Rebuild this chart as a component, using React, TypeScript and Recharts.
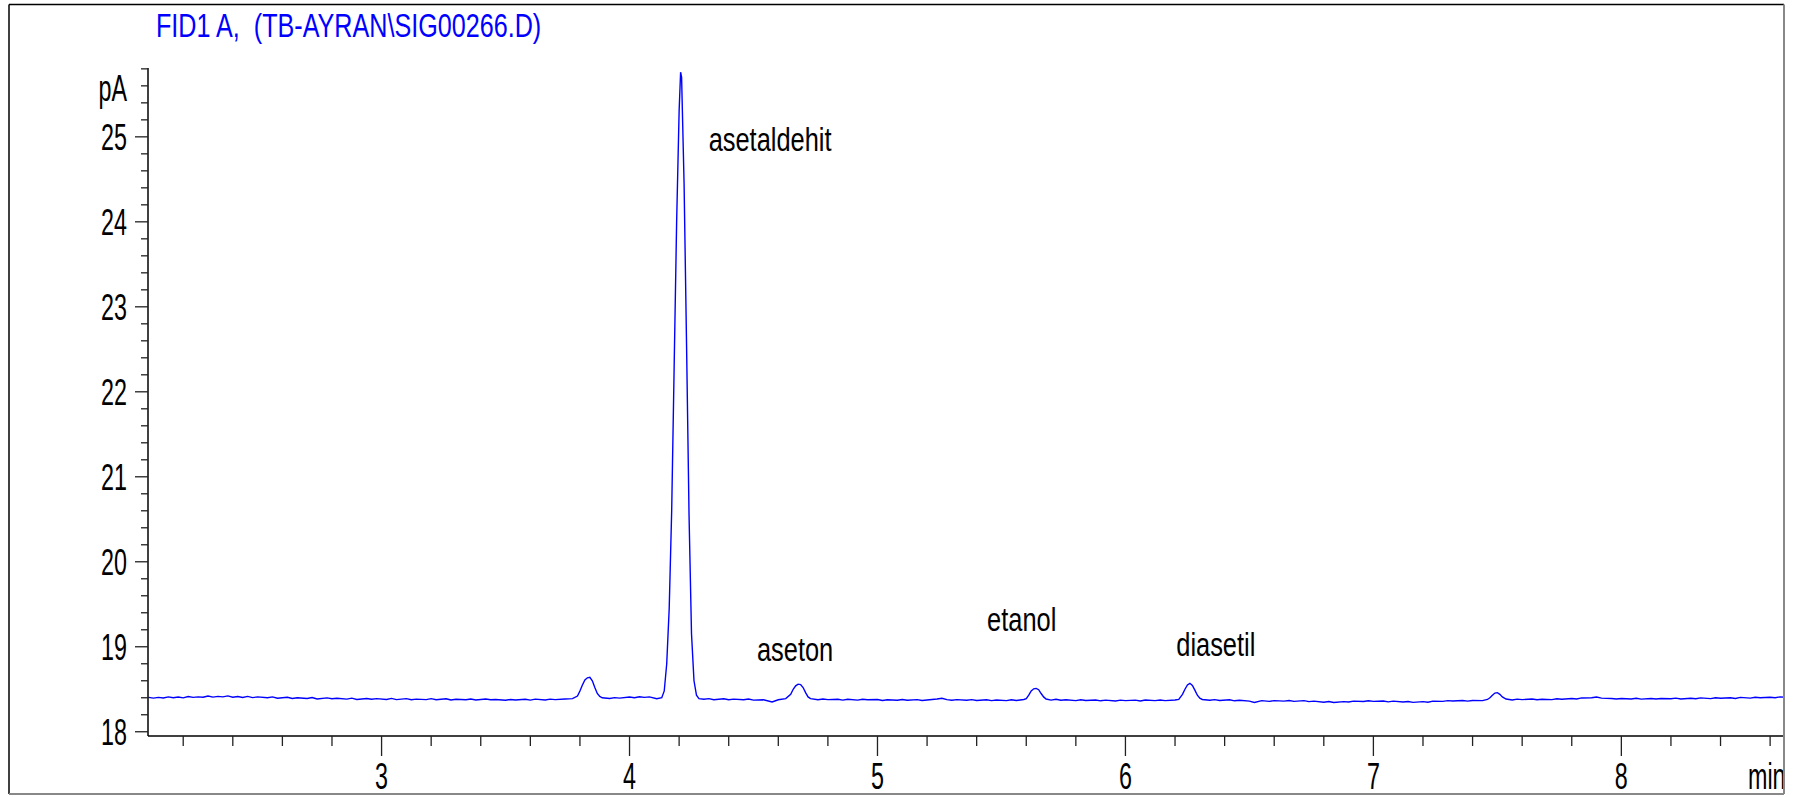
import { LineChart, Line, XAxis, YAxis, ReferenceDot } from 'recharts'

// chromatogram trace: [retention time (min), signal (pA)]
const trace: [number, number][] = [
  [2.06, 18.405], [2.08, 18.396], [2.1, 18.404], [2.12, 18.397], [2.14, 18.41], [2.16, 18.4],
  [2.18, 18.408], [2.2, 18.399], [2.22, 18.414], [2.24, 18.404], [2.26, 18.41], [2.28, 18.406],
  [2.3, 18.42], [2.32, 18.408], [2.34, 18.416], [2.36, 18.41], [2.38, 18.422], [2.4, 18.406],
  [2.42, 18.414], [2.44, 18.404], [2.46, 18.416], [2.48, 18.402], [2.5, 18.41], [2.54, 18.4],
  [2.56, 18.41], [2.58, 18.394], [2.62, 18.406], [2.64, 18.392], [2.66, 18.4], [2.7, 18.392],
  [2.72, 18.402], [2.74, 18.386], [2.78, 18.398], [2.8, 18.388], [2.82, 18.394], [2.86, 18.384],
  [2.88, 18.395], [2.9, 18.38], [2.94, 18.392], [2.96, 18.382], [2.98, 18.39], [3.02, 18.38],
  [3.04, 18.392], [3.06, 18.378], [3.1, 18.39], [3.12, 18.376], [3.14, 18.384], [3.18, 18.378],
  [3.2, 18.39], [3.22, 18.376], [3.26, 18.388], [3.28, 18.374], [3.3, 18.382], [3.34, 18.376],
  [3.36, 18.386], [3.38, 18.374], [3.42, 18.386], [3.44, 18.376], [3.46, 18.38], [3.5, 18.37],
  [3.52, 18.38], [3.54, 18.374], [3.58, 18.382], [3.6, 18.372], [3.62, 18.384], [3.66, 18.374],
  [3.68, 18.384], [3.7, 18.378], [3.74, 18.386], [3.77, 18.39],
  [3.79, 18.42], [3.8, 18.48], [3.81, 18.55], [3.82, 18.61], [3.83, 18.635], [3.84, 18.64],
  [3.85, 18.6], [3.86, 18.52], [3.87, 18.45], [3.88, 18.415], [3.89, 18.4],
  [3.92, 18.392], [3.94, 18.402], [3.96, 18.396], [4.0, 18.408], [4.02, 18.4], [4.04, 18.412],
  [4.06, 18.404], [4.08, 18.41], [4.11, 18.388],
  [4.13, 18.4], [4.14, 18.48], [4.15, 18.8], [4.16, 19.45], [4.17, 20.6], [4.18, 22.3],
  [4.19, 24.0], [4.2, 25.3], [4.206, 25.76], [4.21, 25.7], [4.22, 24.45], [4.23, 22.55],
  [4.24, 20.55], [4.25, 19.15], [4.26, 18.6], [4.27, 18.43], [4.28, 18.39],
  [4.3, 18.382], [4.32, 18.39], [4.34, 18.376], [4.38, 18.388], [4.4, 18.376], [4.42, 18.384],
  [4.46, 18.376], [4.48, 18.386], [4.5, 18.372], [4.54, 18.376], [4.575, 18.35], [4.6, 18.376],
  [4.63, 18.39],
  [4.65, 18.44], [4.66, 18.5], [4.67, 18.54], [4.68, 18.56], [4.69, 18.555], [4.7, 18.52],
  [4.71, 18.46], [4.72, 18.41], [4.73, 18.39],
  [4.76, 18.376], [4.78, 18.386], [4.8, 18.378], [4.84, 18.382], [4.86, 18.372], [4.88, 18.382],
  [4.92, 18.372], [4.94, 18.382], [4.96, 18.376], [5.0, 18.38], [5.02, 18.368], [5.04, 18.376],
  [5.08, 18.37], [5.1, 18.38], [5.12, 18.37], [5.16, 18.378], [5.18, 18.368], [5.2, 18.374],
  [5.24, 18.385], [5.26, 18.394], [5.28, 18.378], [5.3, 18.37], [5.32, 18.378], [5.36, 18.37],
  [5.38, 18.378], [5.4, 18.368], [5.44, 18.376], [5.46, 18.366], [5.48, 18.374], [5.52, 18.366],
  [5.54, 18.376], [5.56, 18.368], [5.59, 18.38],
  [5.6, 18.39], [5.61, 18.43], [5.62, 18.48], [5.63, 18.505], [5.64, 18.51], [5.65, 18.495],
  [5.66, 18.45], [5.67, 18.41], [5.68, 18.385],
  [5.7, 18.372], [5.72, 18.382], [5.74, 18.37], [5.76, 18.376], [5.8, 18.366], [5.82, 18.376],
  [5.84, 18.368], [5.88, 18.374], [5.9, 18.364], [5.92, 18.372], [5.96, 18.362], [5.98, 18.372],
  [6.0, 18.366], [6.04, 18.372], [6.06, 18.362], [6.08, 18.374], [6.12, 18.366], [6.14, 18.374],
  [6.16, 18.366], [6.2, 18.374], [6.215, 18.38],
  [6.23, 18.44], [6.24, 18.5], [6.25, 18.55], [6.26, 18.57], [6.27, 18.545], [6.28, 18.49],
  [6.29, 18.43], [6.3, 18.395], [6.31, 18.38],
  [6.34, 18.37], [6.36, 18.378], [6.38, 18.368], [6.42, 18.376], [6.44, 18.364], [6.46, 18.37],
  [6.5, 18.36], [6.52, 18.345], [6.55, 18.366], [6.58, 18.358], [6.6, 18.366], [6.64, 18.36],
  [6.66, 18.368], [6.68, 18.358], [6.72, 18.366], [6.74, 18.354], [6.76, 18.36], [6.8, 18.348],
  [6.82, 18.356], [6.84, 18.344], [6.88, 18.354], [6.9, 18.35], [6.92, 18.36], [6.96, 18.356],
  [6.98, 18.364], [7.0, 18.358], [7.04, 18.362], [7.06, 18.352], [7.08, 18.36], [7.12, 18.35],
  [7.14, 18.356], [7.16, 18.346], [7.2, 18.354], [7.22, 18.348], [7.24, 18.36], [7.28, 18.358],
  [7.3, 18.366], [7.32, 18.362], [7.36, 18.368], [7.38, 18.36], [7.4, 18.368], [7.44, 18.366],
  [7.46, 18.38],
  [7.47, 18.4], [7.48, 18.43], [7.49, 18.455], [7.5, 18.46], [7.51, 18.44], [7.52, 18.41],
  [7.535, 18.385],
  [7.56, 18.374], [7.58, 18.384], [7.6, 18.378], [7.64, 18.386], [7.66, 18.376], [7.68, 18.382],
  [7.72, 18.378], [7.74, 18.388], [7.76, 18.382], [7.8, 18.392], [7.82, 18.386], [7.84, 18.398],
  [7.88, 18.4], [7.9, 18.408], [7.92, 18.396], [7.96, 18.392], [7.98, 18.386], [8.0, 18.392],
  [8.04, 18.386], [8.06, 18.394], [8.08, 18.384], [8.12, 18.392], [8.14, 18.386], [8.16, 18.392],
  [8.2, 18.388], [8.22, 18.396], [8.24, 18.386], [8.28, 18.394], [8.3, 18.388], [8.32, 18.398],
  [8.36, 18.39], [8.38, 18.4], [8.4, 18.394], [8.44, 18.4], [8.46, 18.392], [8.48, 18.404],
  [8.52, 18.396], [8.54, 18.406], [8.56, 18.4], [8.6, 18.406], [8.62, 18.4], [8.64, 18.41],
  [8.66, 18.406],
]

const peakNames = ['asetaldehit', 'aseton', 'etanol', 'diasetil']
// label anchor (left edge, baseline) in data units
const peakLabelTime = [4.319, 4.514, 5.442, 6.205]
const peakLabelPA = [24.83, 18.83, 19.18, 18.89]

const xMajorTicks = [3, 4, 5, 6, 7, 8]
const xMinorTicks = [2.2, 2.4, 2.6, 2.8, 3.2, 3.4, 3.6, 3.8, 4.2, 4.4, 4.6, 4.8, 5.2, 5.4, 5.6, 5.8,
  6.2, 6.4, 6.6, 6.8, 7.2, 7.4, 7.6, 7.8, 8.2, 8.4, 8.6]
const yMajorTicks = [18, 19, 20, 21, 22, 23, 24, 25]
const yMinorTicks = [18.2, 18.4, 18.6, 18.8, 19.2, 19.4, 19.6, 19.8, 20.2, 20.4, 20.6, 20.8,
  21.2, 21.4, 21.6, 21.8, 22.2, 22.4, 22.6, 22.8, 23.2, 23.4, 23.6, 23.8, 24.2, 24.4, 24.6, 24.8,
  25.2, 25.4, 25.6, 25.8]

const title = 'FID1 A,  (TB-AYRAN\\SIG00266.D)'
const xUnit = 'min'
const yUnit = 'pA'

const data = trace.map(([t, v]) => ({ t, v }))

const FONT = '"Liberation Sans", Arial, Helvetica, sans-serif'
const TICK_FS = 37
const TICK_SX = 0.63

function Narrow({ x, y, sx, size, anchor = 'start', fill = '#000', children }: any) {
  return (
    <text
      transform={`translate(${x},${y}) scale(${sx},1)`}
      textAnchor={anchor}
      fontSize={size}
      fontFamily={FONT}
      fill={fill}
      style={{ whiteSpace: 'pre' }}
    >
      {children}
    </text>
  )
}

function YTick(props: any) {
  const { x, y, payload } = props
  const major = yMajorTicks.includes(payload.value)
  return (
    <g>
      <line x1={x - (major ? 13 : 7)} x2={x} y1={y} y2={y} stroke="#222" strokeWidth={1.3} />
      {major && (
        <Narrow x={x - 21} y={y + 13} sx={TICK_SX} size={TICK_FS} anchor="end">
          {payload.value}
        </Narrow>
      )}
    </g>
  )
}

function XTick(props: any) {
  const { x, y, payload } = props
  const major = xMajorTicks.includes(payload.value)
  return (
    <g>
      <line x1={x} x2={x} y1={y} y2={y + (major ? 20 : 10)} stroke="#222" strokeWidth={1.3} />
      {major && (
        <Narrow x={x} y={y + 53} sx={TICK_SX} size={TICK_FS} anchor="middle">
          {payload.value}
        </Narrow>
      )}
    </g>
  )
}

function PeakLabel(props: any) {
  const vb = props.viewBox || {}
  const cx = vb.x + (vb.width || 0) / 2
  const cy = vb.y + (vb.height || 0) / 2
  return (
    <Narrow x={cx} y={cy} sx={0.77} size={33}>
      {props.text}
    </Narrow>
  )
}

export default function App() {
  return (
    <div style={{ position: 'relative', width: 1811, height: 797, background: '#fff' }}>
      <style>{'body{margin:0}'}</style>
      <LineChart
        width={1811}
        height={797}
        data={data}
        margin={{ top: 68, right: 26, bottom: 21, left: 88 }}
      >
        <XAxis
          type="number"
          dataKey="t"
          domain={[2.058, 8.66]}
          allowDataOverflow
          ticks={[...xMinorTicks, ...xMajorTicks]}
          tick={<XTick />}
          tickLine={false}
          tickSize={0}
          tickMargin={0}
          height={40}
          axisLine={{ stroke: '#000', strokeWidth: 1.5 }}
          interval={0}
        />
        <YAxis
          type="number"
          domain={[17.95, 25.81]}
          allowDataOverflow
          ticks={[...yMajorTicks, ...yMinorTicks]}
          tick={<YTick />}
          tickLine={false}
          tickSize={0}
          tickMargin={0}
          width={60}
          axisLine={{ stroke: '#000', strokeWidth: 1.5 }}
          interval={0}
        />
        <Line
          type="linear"
          dataKey="v"
          stroke="#0000ff"
          strokeWidth={1.4}
          dot={false}
          activeDot={false}
          isAnimationActive={false}
        />
        {peakNames.map((name, i) => (
          <ReferenceDot
            key={name}
            x={peakLabelTime[i]}
            y={peakLabelPA[i]}
            r={0}
            fill="none"
            stroke="none"
            label={(p: any) => <PeakLabel {...p} text={name} />}
          />
        ))}
      </LineChart>
      <svg
        width={1811}
        height={797}
        style={{ position: 'absolute', left: 0, top: 0, pointerEvents: 'none' }}
      >
        <Narrow x={156} y={37} sx={0.74} size={34} fill="#0000ff">{title}</Narrow>
        <Narrow x={127} y={101} sx={TICK_SX} size={TICK_FS} anchor="end">{yUnit}</Narrow>
        <Narrow x={1748} y={789} sx={TICK_SX} size={TICK_FS}>{xUnit}</Narrow>
        <line x1={9} y1={4.5} x2={1784} y2={4.5} stroke="#000" strokeWidth={1.5} />
        <line x1={9} y1={4.5} x2={9} y2={794} stroke="#000" strokeWidth={1.5} />
        <line x1={9} y1={794} x2={1784} y2={794} stroke="#888" strokeWidth={2} />
        <line x1={1784} y1={4.5} x2={1784} y2={794} stroke="#888" strokeWidth={2} />
      </svg>
    </div>
  )
}
